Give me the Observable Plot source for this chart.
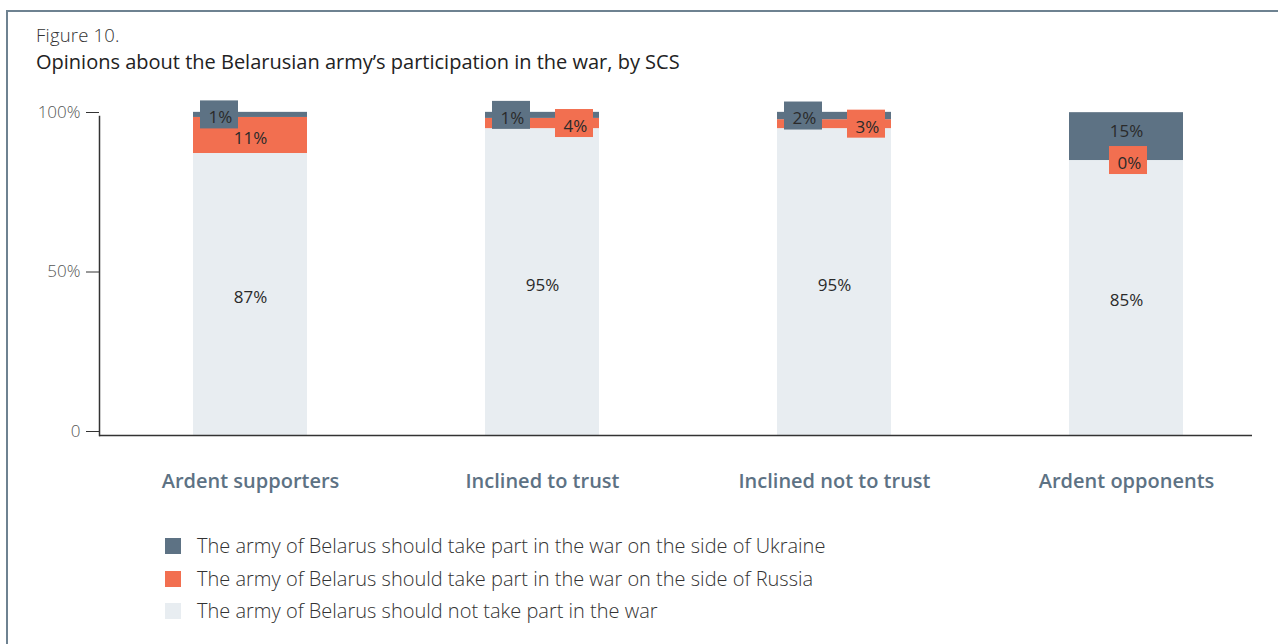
<!DOCTYPE html>
<html>
<head>
<meta charset="utf-8">
<script src="https://cdn.jsdelivr.net/npm/d3@7"></script>
<script src="https://cdn.jsdelivr.net/npm/@observablehq/plot@0.6"></script>
<style>
  html, body { margin: 0; padding: 0; background: #fff; }
  body { width: 1278px; height: 644px; position: relative; overflow: hidden; font-family: "Open Sans", Lato, sans-serif; }
  #frame { position: absolute; left: 6px; top: 10px; width: 1290px; height: 660px; border: 2px solid #6e8291; box-sizing: border-box; }
  #fig { position: absolute; left: 36px; top: 26px; font-size: 18.5px; line-height: 18px; font-weight: 300; color: #333; letter-spacing: 0.2px; }
  #title { position: absolute; left: 36px; top: 52px; font-size: 20px; line-height: 20px; font-weight: 400; color: #222; }
  #chart { position: absolute; left: 0; top: 80px; }
  #legend { position: absolute; left: 165px; top: 530px; }
  .item { position: relative; height: 32.5px; font-size: 20px; font-weight: 300; color: #333; }
  .sw { position: absolute; left: 0; top: 8px; width: 16px; height: 16px; }
  .lab { position: absolute; left: 32px; top: 2px; white-space: nowrap; }
</style>
</head>
<body>
<div id="frame"></div>
<div id="fig">Figure 10.</div>
<div id="title">Opinions about the Belarusian army’s participation in the war, by SCS</div>
<div id="chart"></div>
<div id="legend"></div>
<script>
const categories = ["Ardent supporters", "Inclined to trust", "Inclined not to trust", "Ardent opponents"];
const seriesNames = [
  "The army of Belarus should not take part in the war",
  "The army of Belarus should take part in the war on the side of Russia",
  "The army of Belarus should take part in the war on the side of Ukraine"
];
const legendOrder = [seriesNames[2], seriesNames[1], seriesNames[0]];
const colors = ["#e8edf1", "#f26f50", "#5d7284"];
// bar heights as read against the axis
const notPart = [88.4, 96.2, 96.2, 86.2];
const russia  = [11.3, 3.2, 2.8, 0];
const ukraine = [1.6, 1.9, 2.3, 15.0];
// printed labels
const notPartLabels = ["87%", "95%", "95%", "85%"];
const russiaLabels  = ["11%", "4%", "3%", "0%"];
const ukraineLabels = ["1%", "1%", "2%", "15%"];
const yTicks = [0, 50, 100];

const values = [notPart, russia, ukraine];
const labels = [notPartLabels, russiaLabels, ukraineLabels];

const data = [];
categories.forEach((c, i) => {
  let base = 0;
  seriesNames.forEach((s, j) => {
    const v = values[j][i];
    data.push({category: c, series: s, si: j, value: v, y1: base, y2: base + v, label: labels[j][i]});
    base += v;
  });
});

const pxPerUnit = 319 / 100;
const boxHalf = 14 / pxPerUnit;
const thin = 6; // segments thinner than this get a boxed label
data.forEach(d => {
  d.mid = (d.y1 + d.y2) / 2;
  d.boxed = d.si > 0 && d.value < thin;
});
data.forEach(d => {
  const ukr = data.find(e => e.category === d.category && e.si === 2);
  const rus = data.find(e => e.category === d.category && e.si === 1);
  if (!d.boxed) {
    d.place = "center";
    d.shiftUp = d.si === 2 && rus.boxed && !d.boxed;
    return;
  }
  if (d.si === 2) d.place = "left";
  else d.place = ukr.boxed ? "right" : "center";
});
const insets = {left: [7, 69], right: [70, 6], center: [40, 36]};
const dxs = {left: 7 + 19 - 57, right: 70 + 19 - 57, center: 2};
const boxes = data.filter(d => d.boxed);

const color = {domain: seriesNames, range: colors};
const labelFont = {fontSize: 17, fill: "#2a2a2a", fontWeight: 400};

const marks = [
  Plot.barY(data, {x: "category", y1: "y1", y2: "y2", fill: "series"}),
  Plot.ruleY([0], {stroke: "#333", strokeWidth: 1.5}),
  Plot.frame({anchor: "left", stroke: "#333", strokeWidth: 1.5}),
  Plot.axisY({ticks: yTicks, tickSize: 13, tickPadding: 6, tickFormat: d => d === 0 ? "0" : d + "%", fontSize: 17, fill: "#555", stroke: "#333", dy: -4, fontWeight: 300}),
  Plot.axisX({tickSize: 0, tickPadding: 38, fontSize: 20, fontWeight: 600, fill: "#5d7284", label: null})
];
["left", "right", "center"].forEach(p => {
  const sub = boxes.filter(d => d.place === p);
  marks.push(Plot.barY(sub, {
    x: "category", y1: d => d.mid - boxHalf, y2: d => d.mid + boxHalf,
    fill: "series", insetLeft: insets[p][0], insetRight: insets[p][1]
  }));
  marks.push(Plot.text(sub, {x: "category", y: "mid", text: "label", dx: dxs[p] + 1, dy: 3, ...labelFont}));
});
const plain = data.filter(d => !d.boxed);
marks.push(Plot.text(plain.filter(d => !d.shiftUp), {x: "category", y: "mid", text: "label", dy: 3, ...labelFont}));
marks.push(Plot.text(plain.filter(d => d.shiftUp), {x: "category", y: "mid", text: "label", dy: -5, ...labelFont}));

const plot = Plot.plot({
  width: 1278,
  height: 420,
  marginLeft: 99,
  marginRight: 26,
  marginTop: 36,
  marginBottom: 65,
  style: {fontFamily: "'Open Sans', Lato, sans-serif", background: "transparent", overflow: "visible"},
  x: {domain: categories, range: [14, 1361], padding: 0.61, axis: null},
  y: {domain: [0, 100], axis: null},
  color,
  marks
});
document.getElementById("chart").appendChild(plot);

const legend = document.getElementById("legend");
legendOrder.forEach(s => {
  const row = document.createElement("div");
  row.className = "item";
  row.innerHTML = `<div class="sw" style="background:${colors[seriesNames.indexOf(s)]}"></div><div class="lab">${s}</div>`;
  legend.appendChild(row);
});
</script>
</body>
</html>
